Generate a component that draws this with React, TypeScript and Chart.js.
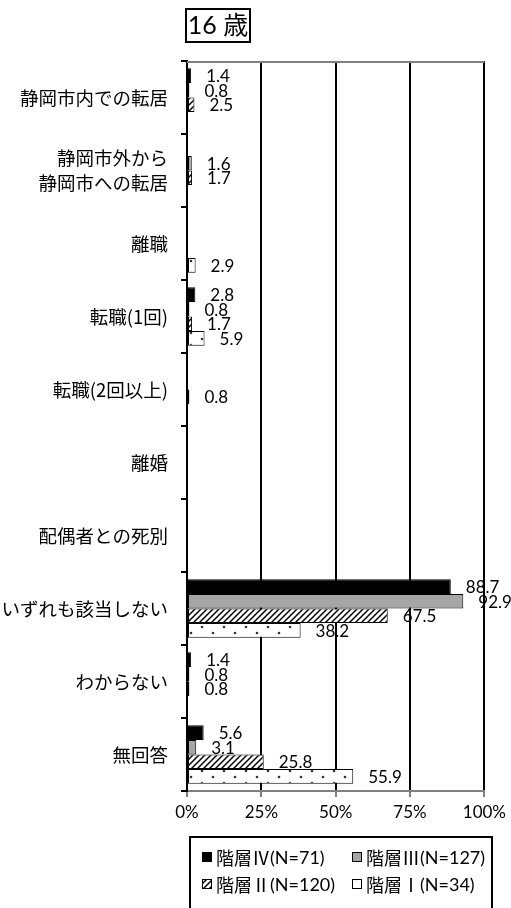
import React, { useEffect, useRef } from "react";
import { Chart, registerables } from "chart.js";

Chart.register(...registerables);

const categories: (string | string[])[] = [
  "静岡市内での転居",
  ["静岡市外から", "静岡市への転居"],
  "離職",
  "転職(1回)",
  "転職(2回以上)",
  "離婚",
  "配偶者との死別",
  "いずれも該当しない",
  "わからない",
  "無回答",
];

const seriesNames = ["階層Ⅳ", "階層Ⅲ", "階層Ⅱ", "階層Ⅰ"];
const seriesCounts = ["(N=71)", "(N=127)", "(N=120)", "(N=34)"];

const level4 = [1.4, null, null, 2.8, null, null, null, 88.7, 1.4, 5.6];
const level3 = [0.8, 1.6, null, 0.8, null, null, null, 92.9, 0.8, 3.1];
const level2 = [2.5, 1.7, null, 1.7, 0.8, null, null, 67.5, 0.8, 25.8];
const level1 = [null, null, 2.9, 5.9, null, null, null, 38.2, null, 55.9];

const xTicks = [0, 25, 50, 75, 100];

const LATIN = "Lato, 'Noto Sans CJK JP', sans-serif";
const CJK = "'Noto Sans CJK JP', Lato, sans-serif";

function makeHatch(): CanvasPattern | string {
  const c = document.createElement("canvas");
  c.width = 6;
  c.height = 6;
  const g = c.getContext("2d");
  if (!g) return "#fff";
  g.fillStyle = "#fff";
  g.fillRect(0, 0, 6, 6);
  g.strokeStyle = "#000";
  g.lineWidth = 1.5;
  g.beginPath();
  g.moveTo(-1, 7);
  g.lineTo(7, -1);
  g.moveTo(-4, 4);
  g.lineTo(4, -4);
  g.moveTo(2, 10);
  g.lineTo(10, 2);
  g.stroke();
  return g.createPattern(c, "repeat") || "#fff";
}

function makeDots(): CanvasPattern | string {
  const c = document.createElement("canvas");
  c.width = 22;
  c.height = 12;
  const g = c.getContext("2d");
  if (!g) return "#fff";
  g.fillStyle = "#fff";
  g.fillRect(0, 0, 22, 12);
  g.fillStyle = "#333";
  g.beginPath();
  g.arc(4, 3, 1.3, 0, Math.PI * 2);
  g.fill();
  g.beginPath();
  g.arc(15, 9, 1.3, 0, Math.PI * 2);
  g.fill();
  return g.createPattern(c, "repeat") || "#fff";
}

export default function App() {
  const ref = useRef<HTMLCanvasElement | null>(null);

  useEffect(() => {
    document.body.style.margin = "0";
    const canvas = ref.current;
    if (!canvas) return;
    const fills: any[] = ["#000000", "#a6a6a6", makeHatch(), makeDots()];
    const values = [level4, level3, level2, level1];

    const labelPlugin = {
      id: "valueLabels",
      afterDatasetsDraw(chart: any) {
        const ctx = chart.ctx;
        ctx.save();
        ctx.font = `17px ${LATIN}`;
        ctx.fillStyle = "#000";
        ctx.textAlign = "left";
        ctx.textBaseline = "middle";
        chart.data.datasets.forEach((ds: any, di: number) => {
          const meta = chart.getDatasetMeta(di);
          meta.data.forEach((el: any, i: number) => {
            const v = ds.data[i];
            if (v === null || v === undefined) return;
            ctx.fillText(Number(v).toFixed(1), el.x + 15, el.y + 1);
          });
        });
        ctx.restore();
      },
    };

    const decorPlugin = {
      id: "decor",
      afterDraw(chart: any) {
        const ctx = chart.ctx;
        const a = chart.chartArea;
        ctx.save();
        // top plot border
        ctx.strokeStyle = "#808080";
        ctx.lineWidth = 2;
        ctx.beginPath();
        ctx.moveTo(a.left, a.top + 1);
        ctx.lineTo(a.right, a.top + 1);
        ctx.stroke();

        // title box
        ctx.strokeStyle = "#000";
        ctx.lineWidth = 2;
        ctx.strokeRect(a.left - 1, 9, 64, 33);
        ctx.fillStyle = "#000";
        ctx.font = `25px ${LATIN}`;
        ctx.textAlign = "center";
        ctx.textBaseline = "middle";
        ctx.fillText("16 歳", a.left + 31, 26);

        // legend
        const boxL = a.left + 3;
        const boxT = 837;
        ctx.lineWidth = 2;
        ctx.strokeStyle = "#000";
        ctx.strokeRect(boxL, boxT, 302, 80);
        const cols = [boxL + 12, boxL + 162];
        const rows = [857, 884];
        ctx.textAlign = "left";
        ctx.textBaseline = "middle";
        chart.data.datasets.forEach((ds: any, di: number) => {
          const x = cols[di % 2];
          const y = rows[Math.floor(di / 2)];
          ctx.fillStyle = ds.backgroundColor;
          ctx.fillRect(x, y - 5, 10, 10);
          ctx.lineWidth = 1;
          ctx.strokeStyle = "#000";
          ctx.strokeRect(x + 0.5, y - 4.5, 9, 9);
          ctx.fillStyle = "#000";
          ctx.font = `18px ${CJK}`;
          const name = seriesNames[di];
          ctx.fillText(name, x + 14, y + 1);
          const w = ctx.measureText(name).width;
          ctx.font = `18px ${LATIN}`;
          ctx.fillText(seriesCounts[di], x + 14 + w, y + 1);
        });
        ctx.restore();
      },
    };

    const chart = new Chart(canvas, {
      type: "bar",
      data: {
        labels: categories as any,
        datasets: values.map((d, i) => ({
          label: seriesNames[i] + seriesCounts[i],
          data: d as any,
          backgroundColor: fills[i],
          borderColor: "#000",
          borderWidth: 1,
          borderSkipped: false,
          categoryPercentage: 0.8,
          barPercentage: 1.0,
        })),
      },
      options: {
        indexAxis: "y",
        responsive: false,
        animation: false,
        devicePixelRatio: 1,
        layout: { padding: { top: 61, right: 25, left: 0, bottom: 0 } },
        plugins: {
          legend: { display: false },
          title: { display: false },
          tooltip: { enabled: false },
        },
        scales: {
          x: {
            type: "linear",
            min: 0,
            max: 100,
            afterBuildTicks(scale: any) {
              scale.ticks = xTicks.map((v) => ({ value: v }));
            },
            afterFit(scale: any) {
              scale.height = 117;
            },
            ticks: {
              callback: (v: any) => `${v}%`,
              color: "#000",
              font: { family: LATIN, size: 17 },
              padding: 5,
              maxRotation: 0,
            },
            grid: {
              color: "#000",
              lineWidth: 2,
              tickColor: "#808080",
              tickLength: 6,
              drawTicks: true,
            },
            border: { color: "#808080", width: 2 },
          },
          y: {
            type: "category",
            offset: true,
            afterFit(scale: any) {
              scale.width = 187;
            },
            ticks: {
              color: "#000",
              font: { family: CJK, size: 18.5, lineHeight: 1.4 },
              padding: 13,
              autoSkip: false,
            },
            grid: {
              offset: true,
              drawOnChartArea: false,
              color: "#000",
              lineWidth: 2,
              tickLength: 6,
            },
            border: { color: "#000", width: 2 },
          },
        },
      },
      plugins: [labelPlugin, decorPlugin],
    } as any);

    return () => chart.destroy();
  }, []);

  return (
    <div style={{ width: 511, height: 908, position: "relative" }}>
      <canvas ref={ref} width={511} height={908} style={{ display: "block" }} />
    </div>
  );
}
